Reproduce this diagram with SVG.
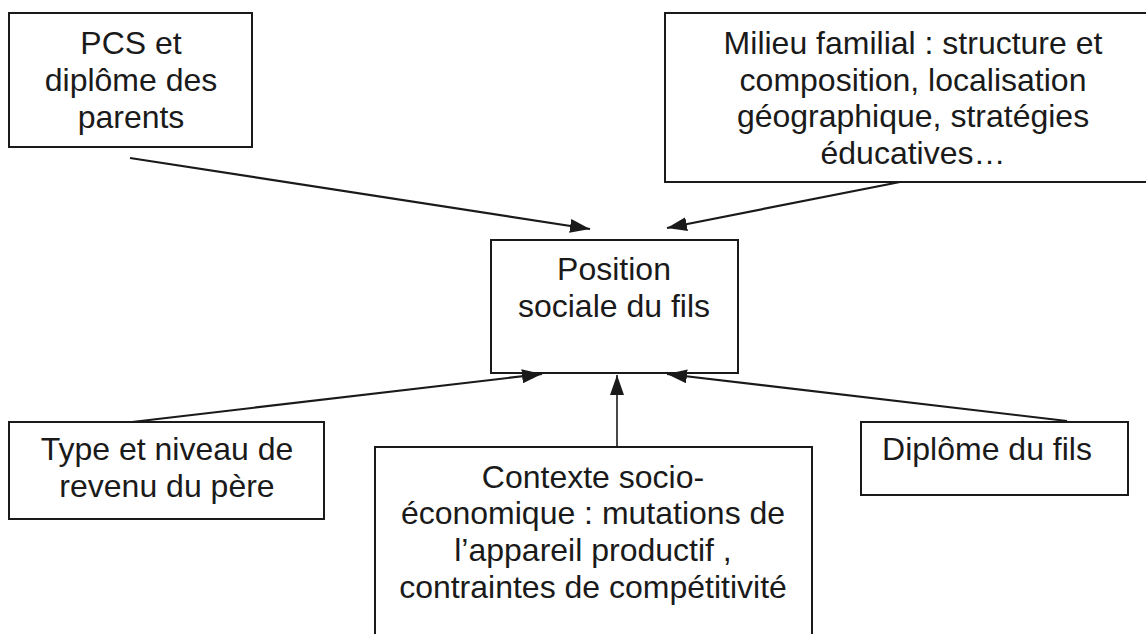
<svg xmlns="http://www.w3.org/2000/svg" width="1146" height="634" viewBox="0 0 1146 634">
<style>
.box{fill:#fff;stroke:#1a1a1a;stroke-width:2}
.t{font-family:"Liberation Sans",Arial,sans-serif;font-size:32px;fill:#1a1a1a;text-anchor:middle}
.c{stroke:#1a1a1a;stroke-width:2.2;fill:none}
</style>
<defs>
<marker id="ah" markerUnits="userSpaceOnUse" markerWidth="22" markerHeight="14" refX="20" refY="7" orient="auto">
<path d="M0,0 L20,7 L0,14 z" fill="#1a1a1a"/>
</marker>
</defs>
<rect width="1146" height="634" fill="#fff"/>
<g id="n-pcs">
<rect class="box" x="9" y="13" width="243" height="134"/>
<text class="t" x="131" y="54">PCS et</text>
<text class="t" x="131" y="91">diplôme des</text>
<text class="t" x="131" y="128">parents</text>
</g>
<g id="n-milieu">
<rect class="box" x="665" y="13" width="500" height="169"/>
<text class="t" x="913" y="54">Milieu familial : structure et</text>
<text class="t" x="913" y="91">composition, localisation</text>
<text class="t" x="913" y="127">géographique, stratégies</text>
<text class="t" x="913" y="164">éducatives…</text>
</g>
<g id="n-position">
<rect class="box" x="491" y="240" width="247" height="133"/>
<text class="t" x="614" y="280">Position</text>
<text class="t" x="614" y="317">sociale du fils</text>
</g>
<g id="n-type">
<rect class="box" x="9" y="422" width="315" height="97"/>
<text class="t" x="167" y="460">Type et niveau de</text>
<text class="t" x="167" y="497">revenu du père</text>
</g>
<g id="n-contexte">
<rect class="box" x="375" y="447" width="437" height="220"/>
<text class="t" x="593" y="488">Contexte socio-</text>
<text class="t" x="593" y="524">économique : mutations de</text>
<text class="t" x="593" y="561">l’appareil productif ,</text>
<text class="t" x="593" y="598">contraintes de compétitivité</text>
</g>
<g id="n-diplome">
<rect class="box" x="861" y="422" width="267" height="73"/>
<text class="t" x="987" y="460">Diplôme du fils</text>
</g>
<g id="connectors">
<line class="c" x1="130" y1="158" x2="590" y2="229" marker-end="url(#ah)"/>
<line class="c" x1="900" y1="182" x2="667" y2="228" marker-end="url(#ah)"/>
<line class="c" x1="132" y1="422" x2="542" y2="374" marker-end="url(#ah)"/>
<line class="c" x1="1067" y1="421" x2="667" y2="374" marker-end="url(#ah)"/>
<line class="c" x1="617" y1="447" x2="617" y2="375" marker-end="url(#ah)" style="stroke-width:1.6"/>
</g>
</svg>
